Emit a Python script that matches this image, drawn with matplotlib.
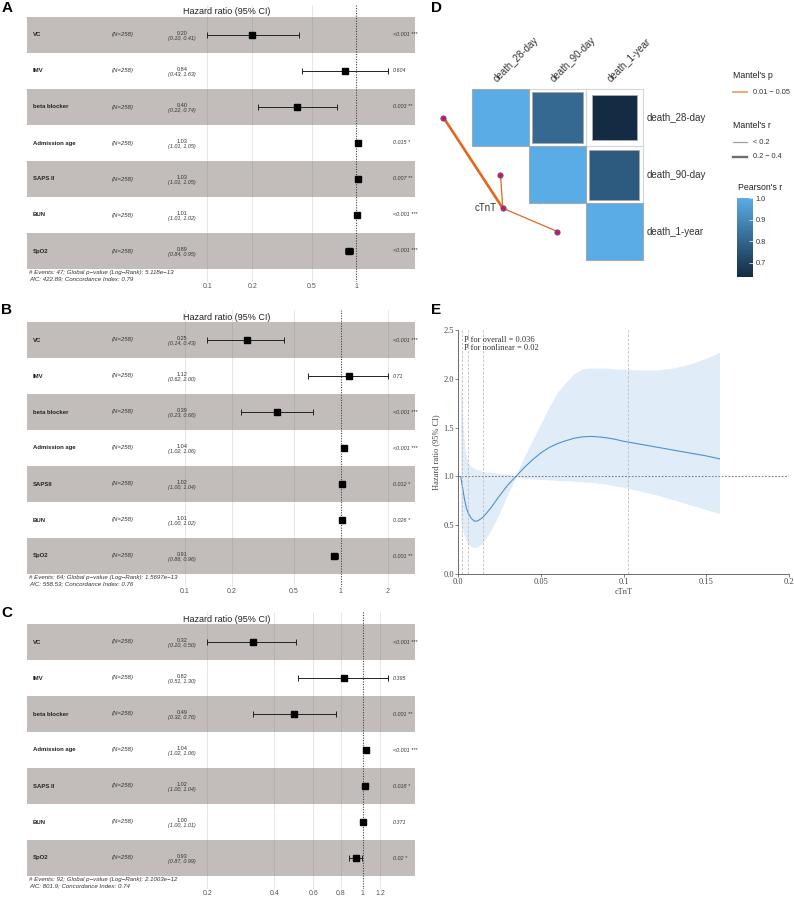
import numpy as np
import matplotlib
matplotlib.use("Agg")
import matplotlib.pyplot as plt
import matplotlib.transforms as mtransforms
from matplotlib.colors import LinearSegmentedColormap, Normalize
from matplotlib.patches import Rectangle
from matplotlib.ticker import NullLocator

plt.rcParams['font.family'] = ['Liberation Sans', 'DejaVu Sans']

W, H = 794, 899

# ---------------- forest plots (Cox models) ----------------
n_obs = 258

names_a = ["VC", "IMV", "beta blocker", "Admission age", "SAPS II", "BUN", "SpO2"]
hr_a = [0.20, 0.84, 0.40, 1.03, 1.03, 1.01, 0.89]
lo_a = [0.10, 0.43, 0.22, 1.01, 1.01, 1.01, 0.84]
hi_a = [0.41, 1.63, 0.74, 1.05, 1.05, 1.02, 0.95]
p_a = ["<0.001 ***", "0.604", "0.003 **", "0.015 *", "0.007 **", "<0.001 ***", "<0.001 ***"]
ticks_a = [0.1, 0.2, 0.5, 1]
footer_a = ("# Events: 47; Global p\u2212value (Log\u2212Rank): 5.118e\u221213\n"
            "AIC: 422.89; Concordance Index: 0.79")

names_b = ["VC", "IMV", "beta blocker", "Admission age", "SAPSII", "BUN", "SpO2"]
hr_b = [0.25, 1.12, 0.39, 1.04, 1.02, 1.01, 0.91]
lo_b = [0.14, 0.62, 0.23, 1.02, 1.00, 1.00, 0.86]
hi_b = [0.43, 2.00, 0.66, 1.06, 1.04, 1.02, 0.96]
p_b = ["<0.001 ***", "0.71", "<0.001 ***", "<0.001 ***", "0.012 *", "0.026 *", "0.001 **"]
ticks_b = [0.1, 0.2, 0.5, 1, 2]
footer_b = ("# Events: 64; Global p\u2212value (Log\u2212Rank): 1.5697e\u221213\n"
            "AIC: 558.53; Concordance Index: 0.76")

names_c = ["VC", "IMV", "beta blocker", "Admission age", "SAPS II", "BUN", "SpO2"]
hr_c = [0.32, 0.82, 0.49, 1.04, 1.02, 1.00, 0.93]
lo_c = [0.20, 0.51, 0.32, 1.02, 1.00, 1.00, 0.87]
hi_c = [0.50, 1.30, 0.76, 1.06, 1.04, 1.01, 0.99]
p_c = ["<0.001 ***", "0.395", "0.001 **", "<0.001 ***", "0.018 *", "0.371", "0.02 *"]
ticks_c = [0.2, 0.4, 0.6, 0.8, 1, 1.2]
footer_c = ("# Events: 92; Global p\u2212value (Log\u2212Rank): 2.1003e\u221212\n"
            "AIC: 801.9; Concordance Index: 0.74")

# ---------------- D: Mantel / Pearson ----------------
outcomes = ["death_28-day", "death_90-day", "death_1-year"]
pearson_r = np.array([[1.00, 0.81, 0.633],
                      [0.81, 1.00, 0.77],
                      [0.633, 0.77, 1.00]])
mantel_r_class = ["0.2 - 0.4", "< 0.2", "< 0.2"]
mantel_p_class = ["0.01 - 0.05", "0.01 - 0.05", "0.01 - 0.05"]

# ---------------- E: restricted cubic spline ----------------
ctnt = [0.0016, 0.003, 0.004, 0.005, 0.006, 0.008, 0.010, 0.012, 0.015, 0.020,
        0.025, 0.030, 0.035, 0.040, 0.045, 0.050, 0.055, 0.060, 0.065, 0.070,
        0.075, 0.080, 0.085, 0.090, 0.095, 0.100, 0.110, 0.120, 0.130, 0.140,
        0.150, 0.158]
hr_spline = [1.00, 0.86, 0.76, 0.68, 0.63, 0.57, 0.54, 0.545, 0.58, 0.68,
             0.80, 0.91, 1.00, 1.09, 1.17, 1.24, 1.295, 1.335, 1.365, 1.39,
             1.405, 1.41, 1.405, 1.395, 1.38, 1.36, 1.33, 1.30, 1.27, 1.24,
             1.21, 1.18]
upper_spline = [2.00, 1.55, 1.30, 1.20, 1.14, 1.10, 1.08, 1.07, 1.05, 1.04,
                1.03, 1.02, 1.01, 1.20, 1.37, 1.54, 1.71, 1.86, 1.96, 2.05,
                2.10, 2.11, 2.11, 2.11, 2.10, 2.10, 2.09, 2.09, 2.11, 2.15,
                2.21, 2.27]
lower_spline = [0.55, 0.45, 0.38, 0.34, 0.31, 0.28, 0.27, 0.28, 0.32, 0.45,
                0.62, 0.82, 0.99, 0.98, 0.975, 0.97, 0.965, 0.96, 0.955, 0.95,
                0.945, 0.94, 0.93, 0.92, 0.90, 0.89, 0.85, 0.81, 0.76, 0.71,
                0.66, 0.62]
knots = [0.0024, 0.0061, 0.0152, 0.1025]

fig = plt.figure(figsize=(W / 100, H / 100), dpi=100)


def px_axes(x0, y0, x1, y1):
    return fig.add_axes([x0 / W, 1 - y1 / H, (x1 - x0) / W, (y1 - y0) / H])


def forest(top, names, hr, lo, hi, pvals, ticks, footer):
    nrow = len(names)
    rowh = 36
    ax = px_axes(27, top - 12, 415, top + nrow * rowh + 13)
    ax.set_xscale('log')
    lmin, lmax = np.log10(min(lo)), np.log10(max(hi))
    span = lmax - lmin
    ax.set_xlim(10 ** (lmin - span), 10 ** (lmax + 0.15 * span))
    ax.set_ylim(nrow + 0.5 + 13 / rowh, 0.5 - 12 / rowh)
    for s in ax.spines.values():
        s.set_visible(False)
    ax.set_yticks([])
    ax.set_xticks(ticks)
    ax.set_xticklabels([f"{t:g}" for t in ticks])
    ax.xaxis.set_minor_locator(NullLocator())
    ax.tick_params(axis='x', length=0, labelsize=5, pad=1, labelcolor='#555555')

    for t in ticks:
        if t != 1:
            ax.axvline(t, color='#E3E3E3', lw=0.6, zorder=0)
    ax.axvline(1, color='#444444', lw=0.8, ls=(0, (1, 1.3)), zorder=4)

    y = np.arange(1, nrow + 1)
    for i in range(nrow):
        if i % 2 == 0:
            ax.axhspan(y[i] - 0.5, y[i] + 0.5, color='#746a63', alpha=0.44, lw=0, zorder=1)

    hr = np.array(hr)
    lo = np.array(lo)
    hi = np.array(hi)
    ax.errorbar(hr, y, xerr=[hr - lo, hi - hr], fmt='none', ecolor='#222222',
                elinewidth=0.7, capsize=2, capthick=0.7, zorder=5)
    ax.plot(hr, y, 's', color='black', ms=5, zorder=6)

    tr = mtransforms.blended_transform_factory(ax.transAxes, ax.transData)
    for i in range(nrow):
        ax.text(0.0155, y[i], names[i], transform=tr, ha='left', va='center',
                fontsize=4.3, fontweight='bold', color='#222222')
        ax.text(0.219, y[i], f"(N={n_obs})", transform=tr, ha='left', va='center',
                fontsize=4.3, style='italic', color='#333333')
        ax.text(0.40, y[i] + 0.02, f"{hr[i]:.2f}", transform=tr, ha='center',
                va='bottom', fontsize=4, color='#333333')
        ax.text(0.40, y[i] + 0.02, f"({lo[i]:.2f}, {hi[i]:.2f})", transform=tr,
                ha='center', va='top', fontsize=4, style='italic', color='#333333')
        ax.text(0.943, y[i], pvals[i], transform=tr, ha='left', va='center',
                fontsize=3.9, style='italic', color='#333333')

    ax.text(0.515, 0.5 - 5 / rowh, "Hazard ratio (95% CI)", transform=tr,
            ha='center', va='center', fontsize=6.5, color='#222222')
    ax.text(0.005, nrow + 0.5 + 0.03, footer, transform=tr, ha='left', va='top',
            fontsize=4.4, style='italic', color='#333333', linespacing=1.2)
    return ax


forest(17, names_a, hr_a, lo_a, hi_a, p_a, ticks_a, footer_a)
forest(322, names_b, hr_b, lo_b, hi_b, p_b, ticks_b, footer_b)
forest(624, names_c, hr_c, lo_c, hi_c, p_c, ticks_c, footer_c)

# ---------------- panel D ----------------
axD = px_axes(405, 20, 790, 300)
axD.set_xlim(-0.675, 6.079)
axD.set_ylim(4.20, -0.71)
axD.axis('off')

cmap = LinearSegmentedColormap.from_list('gg', ['#132B43', '#5AACE6'])
norm = Normalize(vmin=0.633, vmax=1.0)
n = len(outcomes)
for i in range(n):
    for j in range(i, n):
        axD.add_patch(Rectangle((j + 0.5, i + 0.5), 1, 1, fill=False,
                                edgecolor='#D6D6D6', lw=0.8, zorder=1))
        r = pearson_r[i, j]
        side = np.sqrt(abs(r))
        axD.add_patch(Rectangle((j + 1 - side / 2, i + 1 - side / 2), side, side,
                                facecolor=cmap(norm(r)), edgecolor='#A8A8A8',
                                lw=0.7, zorder=2))
for k, name in enumerate(outcomes):
    axD.text(k + 0.97, 0.42, name, rotation=45, rotation_mode='anchor',
             ha='left', va='bottom', fontsize=7, color='#333333')
    axD.text(3.57, k + 1, name, ha='left', va='center', fontsize=7, color='#333333')

node_x, node_y = 1.04, 2.59
link_color = '#E4661B'
for k in range(n):
    lw = 1.9 if mantel_r_class[k] == "0.2 - 0.4" else 0.9
    axD.plot([node_x, k], [node_y, k + 1], color=link_color, lw=lw,
             solid_capstyle='round', zorder=3)
axD.scatter(list(range(n)) + [node_x], [k + 1 for k in range(n)] + [node_y],
            s=14, facecolor='#E8112D', edgecolor='#4A55C8', lw=0.7, zorder=4)
axD.text(node_x - 0.1, node_y, "cTnT", ha='right', va='center', fontsize=7,
         color='#333333')

# legends for D (pixel coordinates)
axL = px_axes(720, 60, 794, 200)
axL.set_xlim(720, 794)
axL.set_ylim(200, 60)
axL.axis('off')
axL.text(733, 75, "Mantel's p", fontsize=6.3, ha='left', va='center', color='#222222')
axL.plot([733, 747], [92, 92], color='#F0A070', lw=1.3)
axL.text(753, 92, "0.01 \u2212 0.05", fontsize=5.3, ha='left', va='center', color='#333333')
axL.text(733, 125, "Mantel's r", fontsize=6.3, ha='left', va='center', color='#222222')
axL.plot([733, 747], [142, 142], color='#A0A0A0', lw=0.9)
axL.text(753, 142, "< 0.2", fontsize=5.3, ha='left', va='center', color='#333333')
axL.plot([733, 747], [157, 157], color='#6E6E6E', lw=1.7)
axL.text(753, 157, "0.2 \u2212 0.4", fontsize=5.3, ha='left', va='center', color='#333333')
axL.text(738, 188, "Pearson's r", fontsize=6.3, ha='left', va='center', color='#222222')

cax = px_axes(737, 198, 753, 277)
sm = plt.cm.ScalarMappable(cmap=cmap, norm=norm)
cb = fig.colorbar(sm, cax=cax, ticks=[0.7, 0.8, 0.9, 1.0])
cb.outline.set_visible(False)
cb.ax.tick_params(length=3, width=0.5, color='white', direction='in',
                  labelsize=5.3, pad=2, labelcolor='#333333')
cb.ax.set_yticklabels(["0.7", "0.8", "0.9", "1.0"])

# ---------------- panel E ----------------
serif = ['Liberation Serif', 'DejaVu Serif']
axE = px_axes(458, 330, 789, 574)
axE.fill_between(ctnt, lower_spline, upper_spline, color='#E0ECF7', lw=0)
axE.plot(ctnt, hr_spline, color='#4B92D2', lw=0.8)
axE.axhline(1, color='#666666', lw=0.6, ls=(0, (2, 2)))
for kx in knots:
    axE.axvline(kx, color='#BBBBBB', lw=0.6, ls=(0, (3, 2)))
axE.set_xlim(0, 0.2)
axE.set_ylim(0, 2.5)
for side in ['top', 'right']:
    axE.spines[side].set_visible(False)
for side in ['left', 'bottom']:
    axE.spines[side].set_color('#555555')
    axE.spines[side].set_linewidth(0.6)
axE.set_xticks([0, 0.05, 0.1, 0.15, 0.2])
axE.set_xticklabels(["0.0", "0.05", "0.1", "0.15", "0.2"], family=serif)
axE.set_yticks([0, 0.5, 1.0, 1.5, 2.0, 2.5])
axE.set_yticklabels(["0.0", "0.5", "1.0", "1.5", "2.0", "2.5"], family=serif)
axE.tick_params(length=2, width=0.5, labelsize=6, pad=1, color='#555555',
                labelcolor='#444444')
axE.set_xlabel("cTnT", family=serif, fontsize=6, labelpad=1, color='#444444')
axE.set_ylabel("Hazard ratio (95% CI)", family=serif, fontsize=6, labelpad=2,
               color='#444444')
axE.text(0.018, 0.975, "P for overall = 0.036\nP for nonlinear = 0.02",
         transform=axE.transAxes, family=serif, fontsize=6, ha='left', va='top',
         linespacing=1.05, color='#333333')

# ---------------- panel letters ----------------
for lab, (lx, ly) in {"A": (7, 8), "B": (7, 310), "C": (7, 613),
                      "D": (436, 8), "E": (436, 310)}.items():
    fig.text(lx / W, 1 - ly / H, lab, fontsize=11, fontweight='bold',
             ha='center', va='center', color='black')

fig.savefig("out.png", dpi=100)
